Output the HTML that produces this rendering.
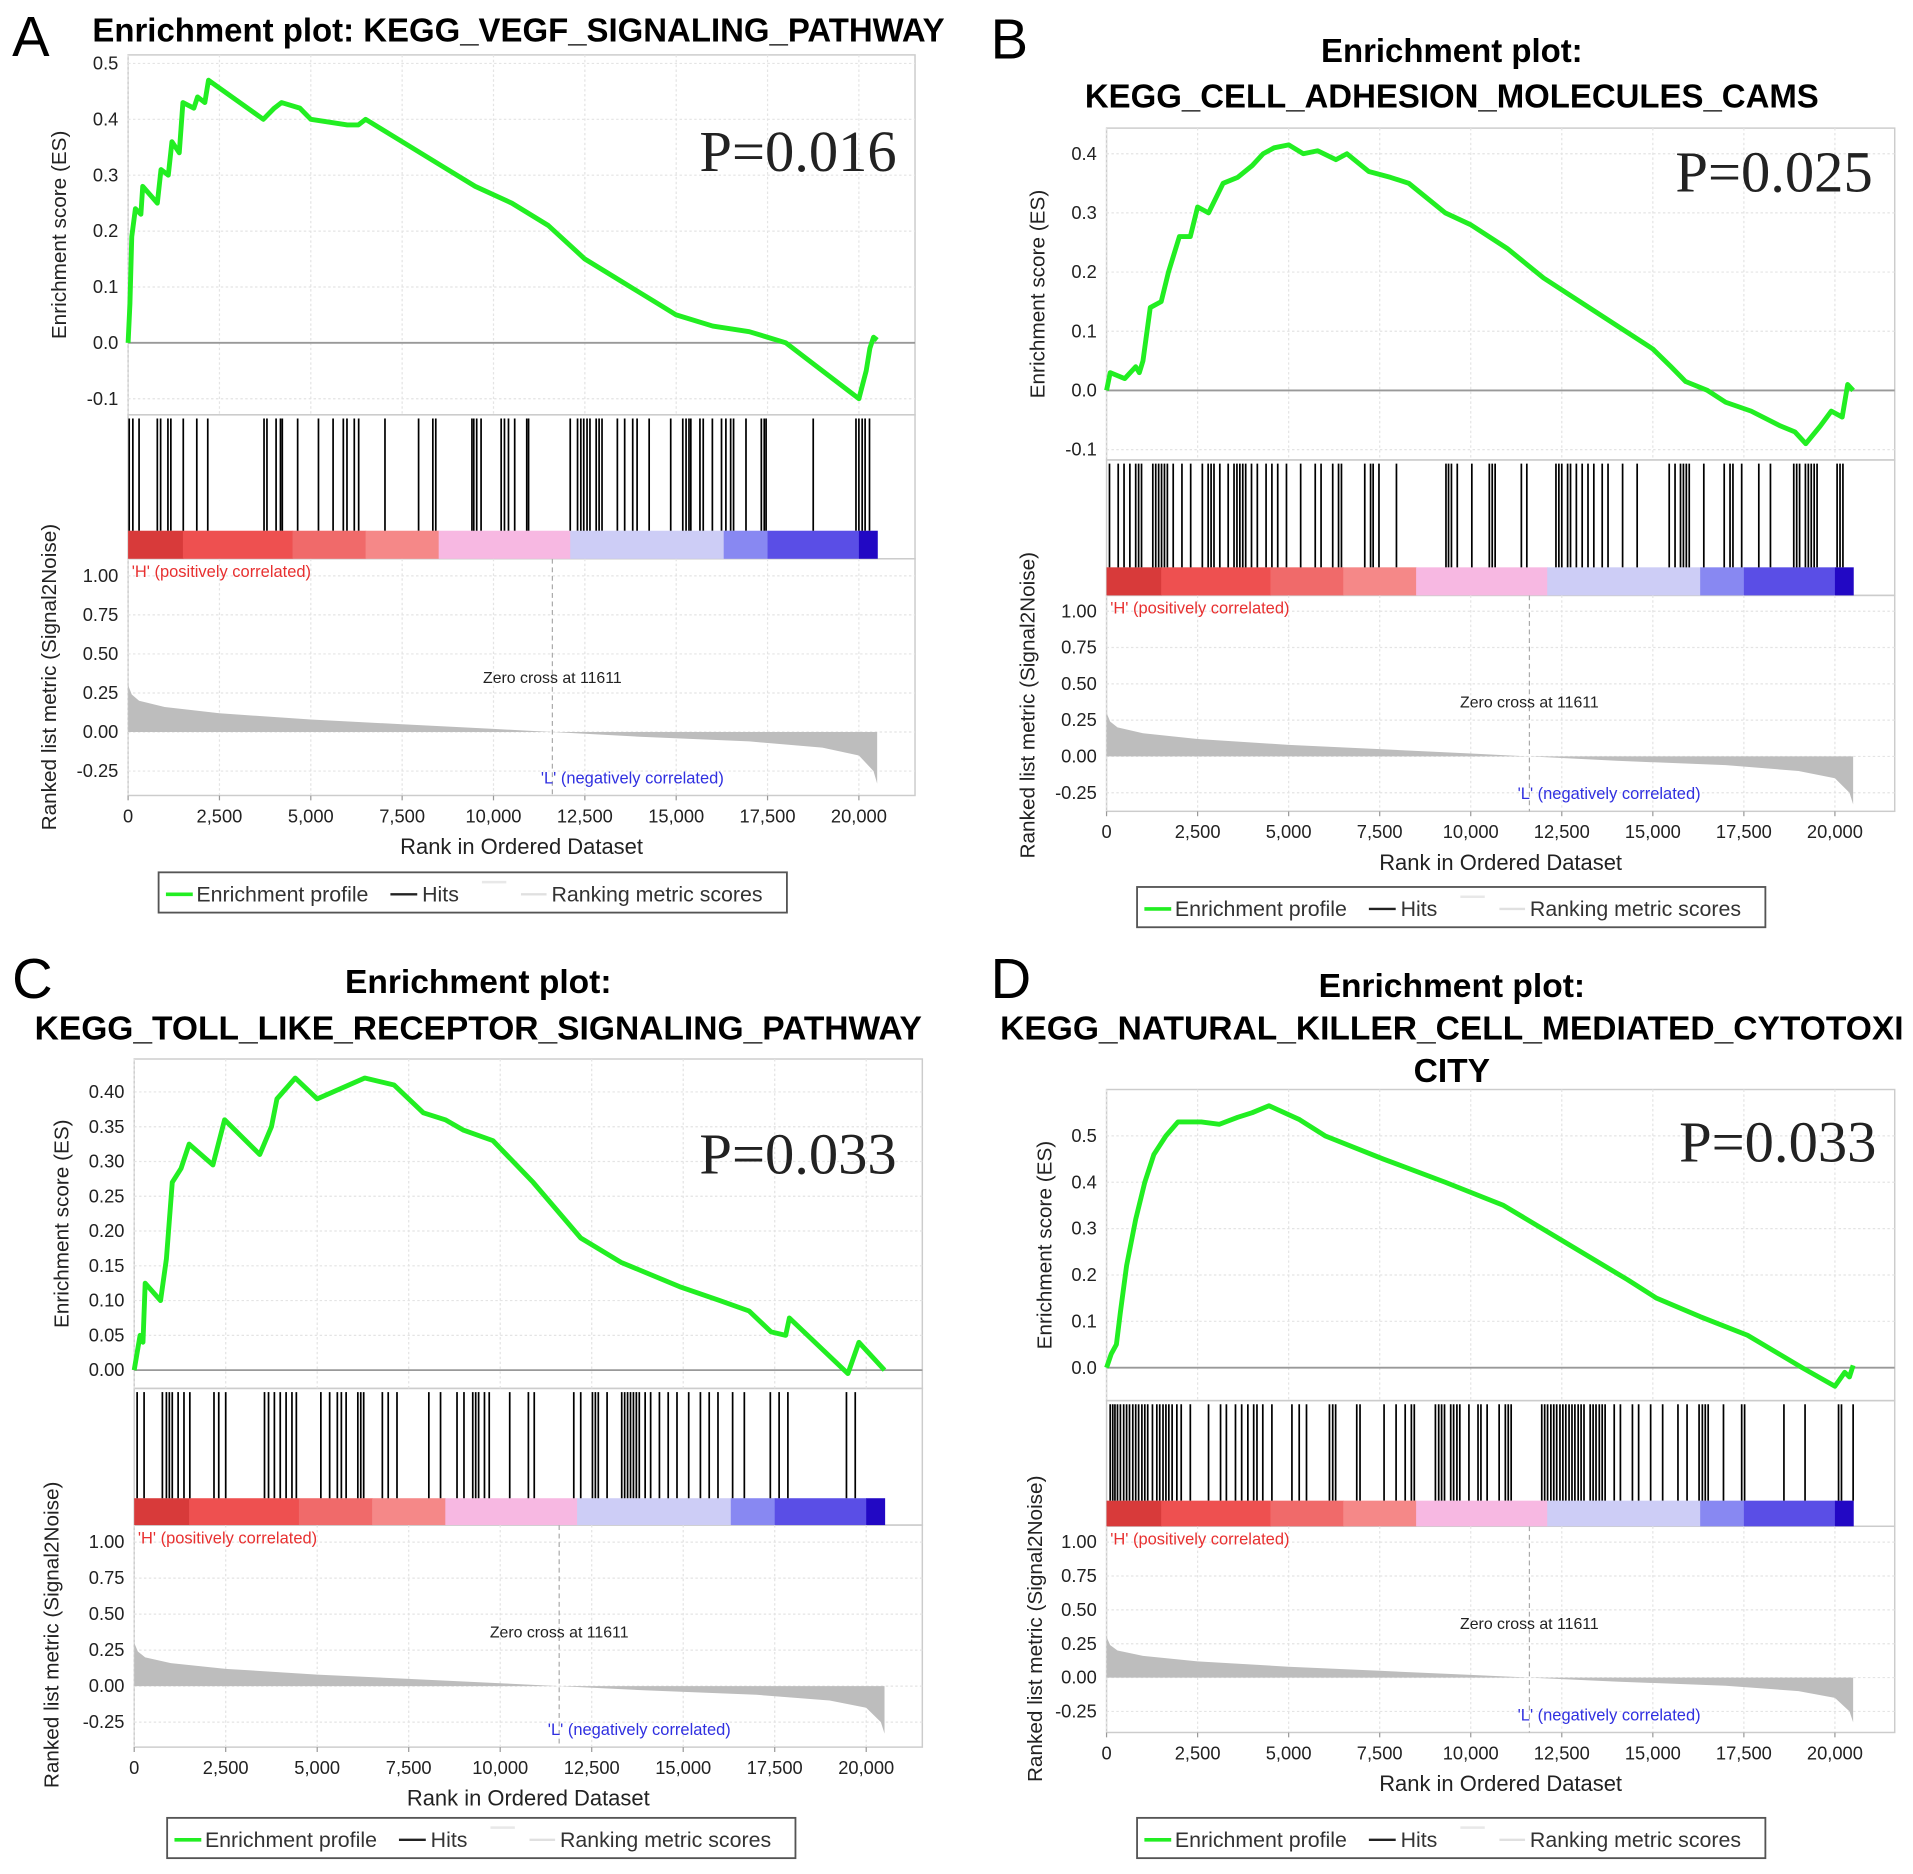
<!DOCTYPE html>
<html><head><meta charset="utf-8">
<style>
html,body{margin:0;padding:0;background:#fff;}
svg{display:block;}
text{font-family:"Liberation Sans",Arial,sans-serif;}
text.serif{font-family:"Liberation Serif","Times New Roman",serif;}
</style></head>
<body>
<svg id="fig" width="1913" height="1874" viewBox="0 0 1568 1536" preserveAspectRatio="none" xmlns="http://www.w3.org/2000/svg"></svg>
<script>
// ---------- DATA (ranks in thousands) ----------
const xTickLabels = ["0","2,500","5,000","7,500","10,000","12,500","15,000","17,500","20,000"];
const xTickVals = [0,2.5,5,7.5,10,12.5,15,17.5,20];
const metricTickVals = [1.0,0.75,0.5,0.25,0,-0.25];
const metricTickLabels = ["1.00","0.75","0.50","0.25","0.00","-0.25"];
const metricRanks = [0,0.1,0.3,1.0,2.5,5.0,7.5,10.0,11.611,14.0,17.0,19.0,20.0,20.4,20.5];
const metricVals = [0.30,0.24,0.20,0.16,0.12,0.08,0.05,0.02,0,-0.03,-0.06,-0.10,-0.15,-0.25,-0.33];
const zeroCross = 11.611;

const esRankA = [0,0.05,0.1,0.2,0.35,0.4,0.8,0.9,1.1,1.2,1.4,1.5,1.8,1.9,2.1,2.2,3.7,4.0,4.2,4.7,5.0,6.0,6.3,6.5,7.5,8.5,9.5,10.5,11.5,12.5,13.5,14.5,15.0,16.0,17.0,17.5,18.0,18.8,20.0,20.2,20.3,20.4,20.5];
const esValA = [0,0.07,0.19,0.24,0.23,0.28,0.25,0.31,0.30,0.36,0.34,0.43,0.42,0.44,0.43,0.47,0.40,0.42,0.43,0.42,0.40,0.39,0.39,0.40,0.36,0.32,0.28,0.25,0.21,0.15,0.11,0.07,0.05,0.03,0.02,0.01,0.00,-0.04,-0.10,-0.05,-0.01,0.01,0.005];
const hitsA = [0.03,0.13,0.3,0.8,0.89,1.09,1.17,1.51,1.88,2.18,3.72,3.8,4.05,4.17,4.22,4.64,5.21,5.61,5.89,5.99,6.19,6.31,7.03,7.95,8.34,8.42,9.41,9.46,9.54,9.66,10.21,10.3,10.41,10.58,10.91,10.96,12.1,12.3,12.39,12.47,12.56,12.64,12.81,12.89,12.97,13.39,13.59,13.81,13.93,14.26,14.85,15.18,15.27,15.35,15.4,15.65,15.74,15.99,16.24,16.36,16.49,16.57,16.91,17.33,17.41,17.46,18.75,19.92,20.0,20.09,20.17,20.29];

const esRankB = [0,0.1,0.5,0.8,0.9,1.0,1.2,1.5,1.7,2.0,2.3,2.5,2.8,3.2,3.6,4.0,4.3,4.6,5.0,5.4,5.8,6.3,6.6,7.2,7.8,8.3,9.3,10,11,12,13,14,15,15.5,15.9,16.5,17,17.7,18.5,18.9,19.2,19.6,19.9,20.2,20.35,20.5];
const esValB = [0,0.03,0.02,0.04,0.03,0.05,0.14,0.15,0.20,0.26,0.26,0.31,0.30,0.35,0.36,0.38,0.40,0.41,0.415,0.40,0.405,0.39,0.40,0.37,0.36,0.35,0.30,0.28,0.24,0.19,0.15,0.11,0.07,0.04,0.015,0.0,-0.02,-0.035,-0.06,-0.07,-0.09,-0.06,-0.035,-0.045,0.01,0.0];
const hitsB = [0.08,0.32,0.48,0.64,0.8,0.88,0.96,1.27,1.35,1.43,1.51,1.59,1.67,1.83,2.07,2.31,2.63,2.79,2.87,2.95,3.11,3.34,3.5,3.58,3.66,3.74,3.82,3.98,4.14,4.38,4.54,4.7,4.94,5.33,5.73,5.89,6.21,6.37,6.45,7.09,7.25,7.32,7.48,7.96,9.32,9.39,9.47,9.63,10.03,10.51,10.59,10.67,11.39,11.54,12.34,12.42,12.5,12.66,12.74,12.9,13.06,13.22,13.38,13.61,13.77,14.17,14.57,15.45,15.61,15.76,15.84,15.92,16.0,16.4,16.96,17.12,17.2,17.44,17.91,18.23,18.87,18.95,19.03,19.19,19.27,19.35,19.43,19.51,20.06,20.14,20.22];

const esRankC = [0,0.16,0.24,0.3,0.72,0.88,1.04,1.28,1.5,2.15,2.47,3.43,3.75,3.9,4.4,5.0,6.3,7.1,7.9,8.5,9.0,9.8,10.9,12.2,13.3,14.9,16.0,16.8,17.4,17.8,17.9,19.5,19.6,19.8,20.5];
const esValC = [0,0.05,0.04,0.125,0.10,0.16,0.27,0.29,0.325,0.295,0.36,0.31,0.35,0.39,0.42,0.39,0.42,0.41,0.37,0.36,0.345,0.33,0.27,0.19,0.155,0.12,0.10,0.085,0.055,0.05,0.075,-0.005,0.01,0.04,0.0];
const hitsC = [0.08,0.27,0.77,0.88,0.96,1.04,1.2,1.36,1.52,2.18,2.31,2.5,3.56,3.67,3.83,3.99,4.15,4.31,4.43,5.1,5.34,5.55,5.66,5.79,6.11,6.19,6.27,6.78,6.94,7.18,8.05,8.37,8.82,9.01,9.25,9.33,9.41,9.57,9.7,10.26,10.77,10.93,12.01,12.2,12.52,12.6,12.68,12.92,13.32,13.4,13.48,13.56,13.64,13.72,13.8,13.96,14.11,14.35,14.59,14.83,15.15,15.47,15.71,15.95,16.35,16.67,17.38,17.62,17.86,19.46,19.7];

const esRankD = [0,0.13,0.27,0.38,0.55,0.8,1.05,1.3,1.63,1.96,2.6,3.1,3.6,4.0,4.46,5.3,6.0,7.6,9.3,10.9,12.6,14.3,15.1,16.3,17.6,19.1,20.0,20.27,20.4,20.5];
const esValD = [0,0.03,0.05,0.12,0.22,0.32,0.40,0.46,0.50,0.53,0.53,0.525,0.54,0.55,0.565,0.535,0.50,0.45,0.40,0.35,0.27,0.19,0.15,0.11,0.07,0.0,-0.04,-0.01,-0.02,0.005];
const hitsD = [0.1,0.17,0.23,0.3,0.38,0.47,0.55,0.63,0.72,0.8,0.88,0.97,1.05,1.13,1.26,1.38,1.46,1.55,1.63,1.71,1.8,1.93,2.05,2.3,2.8,3.13,3.29,3.54,3.71,3.88,4.04,4.13,4.29,4.54,5.09,5.29,5.49,6.12,6.21,6.29,6.87,6.96,7.62,7.95,8.2,8.37,8.45,9.03,9.12,9.2,9.28,9.45,9.53,9.62,9.7,9.95,10.2,10.28,10.45,10.78,10.95,11.03,11.11,11.95,12.03,12.11,12.2,12.28,12.36,12.45,12.53,12.61,12.7,12.78,12.86,12.95,13.03,13.11,13.28,13.36,13.44,13.53,13.61,13.69,13.94,14.11,14.44,14.61,14.94,15.27,15.69,15.94,16.27,16.36,16.44,16.52,16.94,17.44,17.52,18.6,19.18,20.1,20.18,20.5];

const esTicksA=[0.5,0.4,0.3,0.2,0.1,0.0,-0.1], esTickLabA=["0.5","0.4","0.3","0.2","0.1","0.0","-0.1"];
const esTicksB=[0.4,0.3,0.2,0.1,0.0,-0.1], esTickLabB=["0.4","0.3","0.2","0.1","0.0","-0.1"];
const esTicksC=[0.40,0.35,0.30,0.25,0.20,0.15,0.10,0.05,0.00], esTickLabC=["0.40","0.35","0.30","0.25","0.20","0.15","0.10","0.05","0.00"];
const esTicksD=[0.5,0.4,0.3,0.2,0.1,0.0], esTickLabD=["0.5","0.4","0.3","0.2","0.1","0.0"];

// ---------- RENDER ----------
const NS="http://www.w3.org/2000/svg";
const svg=document.getElementById('fig');
function el(tag,attrs,parent,txt){const e=document.createElementNS(NS,tag);for(const k in attrs)e.setAttribute(k,attrs[k]);if(txt!==undefined)e.textContent=txt;(parent||svg).appendChild(e);return e;}

function panel(c, esR, esV, hits, esT, esTL){
  const g=el('g',{});
  
  
  const X=r=>c.x0+r/20*c.xw;
  const Y=v=>c.zero-v*c.esScale;
  const M=v=>c.mzero-v*c.mScale;
  const L=el('text',{x:c.lx,y:c.ly,'font-size':46,fill:'#000'},g,c.id);
   
  c.title.forEach((t,i)=>{const tt=el('text',{x:c.tx,y:c.ty[i],'font-size':c.tfs,'font-weight':'bold','text-anchor':'middle',fill:'#000'},g,t);
     });
  el('rect',{x:c.x0,y:c.top,width:c.x1-c.x0,height:c.esBot-c.top,fill:'none',stroke:'#ccc','stroke-width':1.2},g);
  el('rect',{x:c.x0,y:c.barBot,width:c.x1-c.x0,height:c.bot-c.barBot,fill:'none',stroke:'#ccc','stroke-width':1.2},g);
  el('rect',{x:c.x0,y:c.esBot,width:c.x1-c.x0,height:c.barBot-c.esBot,fill:'none',stroke:'#ccc','stroke-width':1.2},g);
  xTickVals.forEach((v,i)=>{
    el('line',{x1:X(v),x2:X(v),y1:c.top,y2:c.esBot,stroke:'#e4e4e4','stroke-dasharray':'2,2'},g);
    el('line',{x1:X(v),x2:X(v),y1:c.barBot,y2:c.bot,stroke:'#e4e4e4','stroke-dasharray':'2,2'},g);
    el('line',{x1:X(v),x2:X(v),y1:c.bot,y2:c.bot+4,stroke:'#999'},g);
    const t=el('text',{x:X(v),y:c.bot+22,'font-size':15,'text-anchor':'middle',fill:'#222'},g,xTickLabels[i]);
     
  });
  esT.forEach((v,i)=>{
    el('line',{x1:c.x0,x2:c.x1,y1:Y(v),y2:Y(v),stroke:v===0?'#999':'#e4e4e4','stroke-dasharray':v===0?'':'2,2','stroke-width':v===0?1.5:1},g);
    const t=el('text',{x:c.x0-8,y:Y(v)+5,'font-size':15,'text-anchor':'end',fill:'#222'},g,esTL[i]);
     
  });
  metricTickVals.forEach((v,i)=>{
    el('line',{x1:c.x0,x2:c.x1,y1:M(v),y2:M(v),stroke:'#e4e4e4','stroke-dasharray':'2,2'},g);
    const t=el('text',{x:c.x0-8,y:M(v)+5,'font-size':15,'text-anchor':'end',fill:'#222'},g,metricTickLabels[i]);
     
  });
  const ya=el('text',{x:0,y:0,'font-size':17,'text-anchor':'middle',fill:'#222',transform:`translate(${c.yax},${(c.top+c.esBot)/2}) rotate(-90)`},g,'Enrichment score (ES)');
   
  const yb=el('text',{x:0,y:0,'font-size':17,'text-anchor':'middle',fill:'#222',transform:`translate(${c.yax-8},${c.myc}) rotate(-90)`},g,'Ranked list metric (Signal2Noise)');
   
  const xa=el('text',{x:(c.x0+c.x1)/2,y:c.bot+48,'font-size':18,'text-anchor':'middle',fill:'#222'},g,'Rank in Ordered Dataset');
   
  let d=`M${X(metricRanks[0])},${M(0)}`;
  metricRanks.forEach((r,i)=>{d+=` L${X(r)},${M(metricVals[i])}`;});
  d+=` L${X(metricRanks[metricRanks.length-1])},${M(0)} Z`;
  const ma=el('path',{d:d,fill:'#bdbdbd'},g);
   
  el('line',{x1:X(zeroCross),x2:X(zeroCross),y1:c.barBot,y2:c.bot,stroke:'#aaa','stroke-dasharray':'4,3'},g);
  const zc=el('text',{x:X(zeroCross),y:c.mzero-40,'font-size':13,'text-anchor':'middle',fill:'#222'},g,'Zero cross at 11611');
   
  const hl=el('text',{x:c.x0+3,y:c.barBot+15,'font-size':13.5,fill:'#e83030'},g,"'H' (positively correlated)");
   
  const ll=el('text',{x:X(13.8),y:c.bot-10,'font-size':13.5,'text-anchor':'middle',fill:'#3030e0'},g,"'L' (negatively correlated)");
   
  const segs=[[0,1.5,'#d83a3a'],[1.5,4.5,'#ee5050'],[4.5,6.5,'#f06a6a'],[6.5,8.5,'#f58888'],[8.5,12.1,'#f7b8e2'],[12.1,16.3,'#cdcdf6'],[16.3,17.5,'#8888f2'],[17.5,20.0,'#5a4ee6'],[20.0,20.5,'#2208c4']];
  segs.forEach(s=>{const r=el('rect',{x:X(s[0]),y:c.hitsBot,width:X(s[1])-X(s[0])+0.5,height:c.barBot-c.hitsBot,fill:s[2]},g);
     });
  hits.forEach(h=>{const l=el('line',{x1:X(h),x2:X(h),y1:c.esBot+3,y2:c.hitsBot,stroke:'#000','stroke-width':1.4},g);
     });
  const pts=esR.map((r,i)=>X(r)+','+Y(esV[i])).join(' ');
  const pl=el('polyline',{points:pts,fill:'none',stroke:'#22ee22','stroke-width':4,'stroke-linejoin':'round'},g);
   
  const pv=el('text',{x:c.px,y:c.py,'font-size':48,'text-anchor':'end',fill:'#222','class':'serif'},g,c.p);
   
  const lg=el('g',{},g);
   
  el('rect',{x:c.lgx,y:c.lgy,width:515,height:33,fill:'#fff',stroke:'#555','stroke-width':1.5},lg);
  el('line',{x1:c.lgx+6,x2:c.lgx+28,y1:c.lgy+18,y2:c.lgy+18,stroke:'#22ee22','stroke-width':3},lg);
  el('text',{x:c.lgx+31,y:c.lgy+24,'font-size':17.5,fill:'#333'},lg,'Enrichment profile');
  el('line',{x1:c.lgx+190,x2:c.lgx+212,y1:c.lgy+18,y2:c.lgy+18,stroke:'#222','stroke-width':2},lg);
  el('text',{x:c.lgx+216,y:c.lgy+24,'font-size':17.5,fill:'#333'},lg,'Hits');
  el('line',{x1:c.lgx+265,x2:c.lgx+285,y1:c.lgy+8,y2:c.lgy+8,stroke:'#e8e8e8','stroke-width':2},lg);
  el('line',{x1:c.lgx+297,x2:c.lgx+318,y1:c.lgy+18,y2:c.lgy+18,stroke:'#e0e0e0','stroke-width':2},lg);
  el('text',{x:c.lgx+322,y:c.lgy+24,'font-size':17.5,fill:'#333'},lg,'Ranking metric scores');
}

panel({id:'A',lx:10,ly:46,title:['Enrichment plot: KEGG_VEGF_SIGNALING_PATHWAY'],tx:425,ty:[34],tfs:27,
  x0:105,x1:750,xw:599,top:45,esBot:340,zero:281,esScale:458,hitsBot:435,barBot:458,bot:652,mzero:600,mScale:128,
  yax:54,myc:555,px:735,py:140,p:'P=0.016',lgx:130,lgy:715}, esRankA, esValA, hitsA, esTicksA, esTickLabA);
panel({id:'B',lx:812,ly:48,title:['Enrichment plot:','KEGG_CELL_ADHESION_MOLECULES_CAMS'],tx:1190,ty:[51,88],tfs:27,
  x0:907,x1:1553,xw:597,top:105,esBot:377,zero:320,esScale:485,hitsBot:465,barBot:488,bot:665,mzero:620,mScale:119,
  yax:856,myc:578,px:1535,py:157,p:'P=0.025',lgx:932,lgy:727}, esRankB, esValB, hitsB, esTicksB, esTickLabB);
panel({id:'C',lx:10,ly:818,title:['Enrichment plot:','KEGG_TOLL_LIKE_RECEPTOR_SIGNALING_PATHWAY'],tx:392,ty:[814,852],tfs:27.5,
  x0:110,x1:756,xw:600,top:868,esBot:1138,zero:1123,esScale:570,hitsBot:1228,barBot:1250,bot:1432,mzero:1382,mScale:118,
  yax:56,myc:1340,px:735,py:962,p:'P=0.033',lgx:137,lgy:1490}, esRankC, esValC, hitsC, esTicksC, esTickLabC);
panel({id:'D',lx:812,ly:818,title:['Enrichment plot:','KEGG_NATURAL_KILLER_CELL_MEDIATED_CYTOTOXI','CITY'],tx:1190,ty:[817,852,887],tfs:27.5,
  x0:907,x1:1553,xw:597,top:893,esBot:1148,zero:1121,esScale:380,hitsBot:1230,barBot:1251,bot:1420,mzero:1375,mScale:111,
  yax:862,myc:1335,px:1538,py:952,p:'P=0.033',lgx:932,lgy:1490}, esRankD, esValD, hitsD, esTicksD, esTickLabD);
</script>
</body></html>
